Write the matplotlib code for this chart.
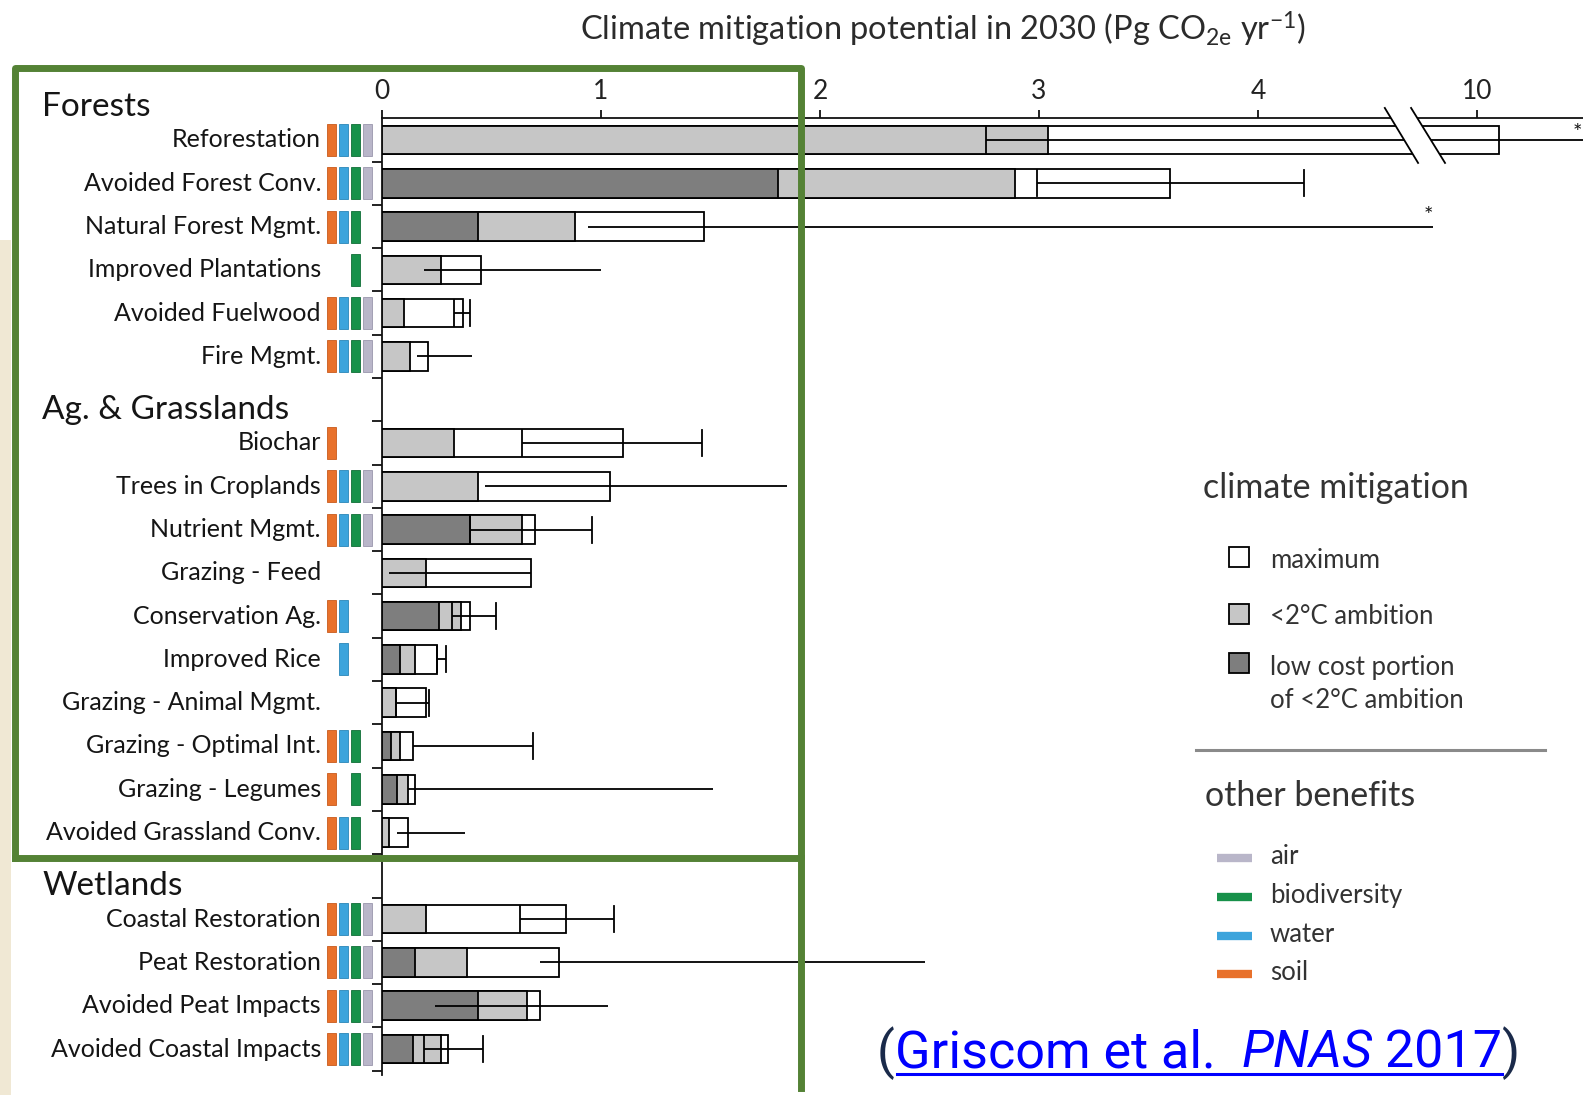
import numpy as np
import matplotlib
matplotlib.use("Agg")
import matplotlib.pyplot as plt
from matplotlib import font_manager, transforms
from matplotlib.patches import Rectangle, Polygon
from matplotlib.lines import Line2D

# ---------------------------------------------------------------- data
section_names = ["Forests", "Ag. & Grasslands", "Wetlands"]
section_sizes = [6, 10, 4]

pathways = [
    "Reforestation", "Avoided Forest Conv.", "Natural Forest Mgmt.",
    "Improved Plantations", "Avoided Fuelwood", "Fire Mgmt.",
    "Biochar", "Trees in Croplands", "Nutrient Mgmt.", "Grazing - Feed",
    "Conservation Ag.", "Improved Rice", "Grazing - Animal Mgmt.",
    "Grazing - Optimal Int.", "Grazing - Legumes", "Avoided Grassland Conv.",
    "Coastal Restoration", "Peat Restoration", "Avoided Peat Impacts",
    "Avoided Coastal Impacts",
]

# Pg CO2e / yr in 2030
low_cost = [0.00, 1.81, 0.44, 0.00, 0.00, 0.00,
            0.00, 0.00, 0.40, 0.00, 0.26, 0.08, 0.00, 0.04, 0.07, 0.00,
            0.00, 0.15, 0.44, 0.14]
ambition = [3.04, 2.89, 0.88, 0.27, 0.10, 0.13,
            0.33, 0.44, 0.64, 0.20, 0.36, 0.15, 0.065, 0.08, 0.12, 0.03,
            0.20, 0.39, 0.66, 0.27]
maximum = [10.1, 3.60, 1.47, 0.45, 0.37, 0.21,
           1.10, 1.04, 0.70, 0.68, 0.40, 0.25, 0.20, 0.14, 0.15, 0.12,
           0.84, 0.81, 0.72, 0.30]
err_low = [2.76, 2.99, 0.94, 0.19, 0.33, 0.16,
           0.64, 0.47, 0.40, 0.03, 0.32, 0.25, 0.065, 0.14, 0.12, 0.07,
           0.63, 0.72, 0.24, 0.19]
err_high = [17.9, 4.21, 4.80, 1.00, 0.40, 0.41,
            1.46, 1.85, 0.96, 0.68, 0.52, 0.29, 0.215, 0.69, 1.51, 0.38,
            1.06, 2.48, 1.03, 0.46]
cap_low = [True, True, False, False, True, False,
           True, False, True, False, True, True, True, False, False, False,
           True, False, False, True]
cap_high = [False, True, False, False, True, False,
            True, False, True, False, True, True, True, True, False, False,
            True, False, False, True]
# error range continues beyond the drawn end
truncated = [True, False, True] + [False] * 17

# co-benefits: s = soil, w = water, b = biodiversity, a = air
benefits = ["swba", "swba", "swb", "b", "swba", "swba",
            "s", "swba", "swba", "", "sw", "w", "", "swb", "sb", "swb",
            "swba", "swba", "swba", "swba"]

tick_values = [0, 1, 2, 3, 4, 10]

# ---------------------------------------------------------------- style
W, H = 1583, 1095
FONT = ["Lato", "DejaVu Sans"]
plt.rcParams["font.family"] = FONT
plt.rcParams["mathtext.fontset"] = "custom"
plt.rcParams["mathtext.rm"] = "Lato"
plt.rcParams["mathtext.it"] = "Lato:italic"

TEXT = "#151515"
LIGHT = "#c6c6c6"
DARK = "#7e7e7e"
GREEN_BOX = "#548235"
benefit_colors = {"s": "#e8712b", "w": "#3ca4dc", "b": "#17914a", "a": "#b9b6c9"}
benefit_edges = {"s": "#c85a1c", "w": "#2a86b8", "b": "#0f6e37", "a": "#9a96ad"}
benefit_x = {"s": 327, "w": 339, "b": 351, "a": 363}   # left edge, px

BREAK_VALUE = 9.0   # values above this sit to the right of the axis break
BREAK_SHIFT = 5.0


def axis_pos(v):
    v = np.asarray(v, dtype=float)
    return np.where(v > BREAK_VALUE, v - BREAK_SHIFT, v)


def fx(px):
    return px / W


def fy(py):
    return 1 - py / H


# slot layout: one slot per section header, then one per pathway
row_slot, header_slot = [], []
s = 0
for size in section_sizes:
    header_slot.append(s)
    s += 1
    for _ in range(size):
        row_slot.append(s)
        s += 1
row_slot = np.array(row_slot, dtype=float)
n_slots = s

fig = plt.figure(figsize=(W / 100, H / 100), dpi=100)
fig.patch.set_facecolor("white")

# parchment edge on the far left
fig.patches.append(Rectangle((0, 0), fx(11), fy(240), transform=fig.transFigure,
                             facecolor="#f0e8d4", edgecolor="none", zorder=0))

y_top_px, y_bot_px = 118.3, 1075.0
ax = fig.add_axes([fx(382), fy(y_bot_px), 1 - fx(382), (y_bot_px - y_top_px) / H])
ax.set_xlim(0, (W - 382) / 219.0)
ax.set_ylim(n_slots - 0.4, 0.5)
ax.set_facecolor("none")

for side in ("right", "bottom"):
    ax.spines[side].set_visible(False)
for side in ("top", "left"):
    ax.spines[side].set_linewidth(1.3)
    ax.spines[side].set_color("#111111")

ax.xaxis.tick_top()
ax.set_xticks(axis_pos(tick_values))
ax.set_xticklabels([str(t) for t in tick_values], fontsize=19, color=TEXT)
ax.tick_params(axis="x", direction="out", length=6, width=1.3, pad=4, colors="#111111")
ax.tick_params(axis="x", labelcolor="#222222")
ax.set_yticks(np.arange(1.5, n_slots, 1.0))
ax.set_yticklabels([])
ax.tick_params(axis="y", direction="out", length=7, width=1.3, colors="#111111")

bar_h = 0.66
cap_h = 0.6
lw = 1.3

for i in range(len(pathways)):
    y = row_slot[i]
    ax.barh(y, axis_pos(maximum[i]), height=bar_h, color="white",
            edgecolor="black", linewidth=lw, zorder=2)
    if ambition[i] > 0:
        ax.barh(y, axis_pos(ambition[i]), height=bar_h, color=LIGHT,
                edgecolor="black", linewidth=lw, zorder=3)
    if low_cost[i] > 0:
        ax.barh(y, axis_pos(low_cost[i]), height=bar_h, color=DARK,
                edgecolor="black", linewidth=lw, zorder=4)
    x0, x1 = axis_pos(err_low[i]), axis_pos(err_high[i])
    ax.plot([x0, x1], [y, y], color="black", lw=lw, zorder=5, solid_capstyle="butt")
    if cap_low[i]:
        ax.plot([x0, x0], [y - cap_h / 2, y + cap_h / 2], color="black", lw=lw, zorder=5)
    if cap_high[i]:
        ax.plot([x1, x1], [y - cap_h / 2, y + cap_h / 2], color="black", lw=lw, zorder=5)

# asterisks for error ranges running past the drawn end
ax.text(axis_pos(err_high[2]) - 0.02, row_slot[2] - 0.25, "*", fontsize=16,
        ha="center", va="center", color=TEXT, zorder=6)
ax.text(5.46, row_slot[0] - 0.15, "*", fontsize=16, ha="center", va="center",
        color=TEXT, zorder=6, clip_on=False)

# axis break: white gap between two slashes across the axis line and top bar
s_top, s_bot = 0.261, 1.531
gap = Polygon([(4.579, s_top), (4.699, s_top), (4.854, s_bot), (4.731, s_bot)],
              closed=True, facecolor="white", edgecolor="none", zorder=8, clip_on=False)
ax.add_patch(gap)
for xa, xb in ((4.579, 4.731), (4.699, 4.854)):
    ax.add_line(Line2D([xa, xb], [s_top, s_bot], color="black", lw=1.3,
                       zorder=9, clip_on=False))

# pathway labels, benefit strips and section headers
lab_tr = transforms.blended_transform_factory(fig.transFigure, ax.transData)
for i, name in enumerate(pathways):
    y = row_slot[i]
    ax.text(fx(321), y, name, transform=lab_tr, ha="right", va="center",
            fontsize=18, color=TEXT, clip_on=False)
    for b in benefits[i]:
        ax.add_patch(Rectangle((fx(benefit_x[b]), y - 0.37), fx(9), 0.74,
                               transform=lab_tr, facecolor=benefit_colors[b],
                               edgecolor=benefit_edges[b], linewidth=0.6,
                               clip_on=False, zorder=3))
for name, hs in zip(section_names, header_slot):
    ax.text(fx(42), hs + 0.24, name, transform=lab_tr, ha="left", va="center",
            fontsize=24, color=TEXT, clip_on=False)

# title
fig.text(fx(943), fy(29),
         r"Climate mitigation potential in 2030 (Pg CO$_{\mathrm{2e}}$ yr$^{\mathrm{-1}}$)",
         ha="center", va="center", fontsize=23.5, color="#2b2b2b")

# green highlight frame
fig.add_artist(Line2D([fx(15), fx(15), fx(801), fx(801), fx(15)],
                      [fy(858), fy(68), fy(68), fy(858), fy(858)],
                      transform=fig.transFigure, color=GREEN_BOX, lw=5,
                      solid_joinstyle="round", zorder=10))
fig.add_artist(Line2D([fx(801), fx(801)], [fy(858), fy(1088)],
                      transform=fig.transFigure, color=GREEN_BOX, lw=5, zorder=10))

# legend: climate mitigation
LEG = "#333333"
fig.text(fx(1203), fy(488), "climate mitigation", fontsize=24.5, color=LEG,
         ha="left", va="center")
for (py, fc) in ((557, "white"), (614, LIGHT), (663, DARK)):
    fig.patches.append(Rectangle((fx(1229), fy(py + 10)), fx(20), 20 / H,
                                 transform=fig.transFigure, facecolor=fc,
                                 edgecolor="black", linewidth=1.3))
fig.text(fx(1270), fy(560), "maximum", fontsize=18.5, color=LEG, va="center")
fig.text(fx(1270), fy(616), "<2°C ambition", fontsize=18.5, color=LEG, va="center")
fig.text(fx(1270), fy(668), "low cost portion", fontsize=18.5, color=LEG, va="center")
fig.text(fx(1270), fy(700), "of <2°C ambition", fontsize=18.5, color=LEG, va="center")

fig.add_artist(Line2D([fx(1196), fx(1545)], [fy(750), fy(750)],
                      transform=fig.transFigure, color="#8a8a8a", lw=2.2))

# legend: other benefits
fig.text(fx(1205), fy(796), "other benefits", fontsize=24.5, color=LEG,
         ha="left", va="center")
for (py, b, lab) in ((858, "a", "air"), (897, "b", "biodiversity"),
                     (936, "w", "water"), (974, "s", "soil")):
    fig.add_artist(Line2D([fx(1217), fx(1252)], [fy(py), fy(py)],
                          transform=fig.transFigure, color=benefit_colors[b],
                          lw=6, solid_capstyle="butt"))
    fig.text(fx(1270), fy(py - 2), lab, fontsize=18.5, color=LEG, va="center")

# citation
def pick_family(cands):
    for c in cands:
        try:
            font_manager.findfont(font_manager.FontProperties(family=c),
                                  fallback_to_default=False)
            return c
        except Exception:
            continue
    return "DejaVu Sans"


CITE_FONT = pick_family(["Liberation Sans Narrow", "DejaVu Sans Condensed", "Roboto"])
cite_size = 37.5
renderer = fig.canvas.get_renderer()
pieces = [("(", "normal", "#1a2a4a"), ("Griscom et al.  ", "normal", "#0000ff"),
          ("PNAS", "italic", "#0000ff"), (" 2017", "normal", "#0000ff"),
          (")", "normal", "#1a2a4a")]
x_cur = 877
base_y = fy(1068)
ul_start = ul_end = None
for txt, style, col in pieces:
    t = fig.text(fx(x_cur), base_y, txt, fontsize=cite_size, color=col,
                 family=CITE_FONT, style=style, ha="left", va="baseline")
    bb = t.get_window_extent(renderer=renderer)
    if txt.startswith("Griscom"):
        ul_start = x_cur
    if txt.endswith("2017"):
        ul_end = x_cur + bb.width
    x_cur += bb.width
fig.add_artist(Line2D([fx(ul_start + 2), fx(ul_end)], [fy(1074), fy(1074)],
                      transform=fig.transFigure, color="#0000ff", lw=2.2))

fig.savefig("out.png", dpi=100, facecolor="white")
